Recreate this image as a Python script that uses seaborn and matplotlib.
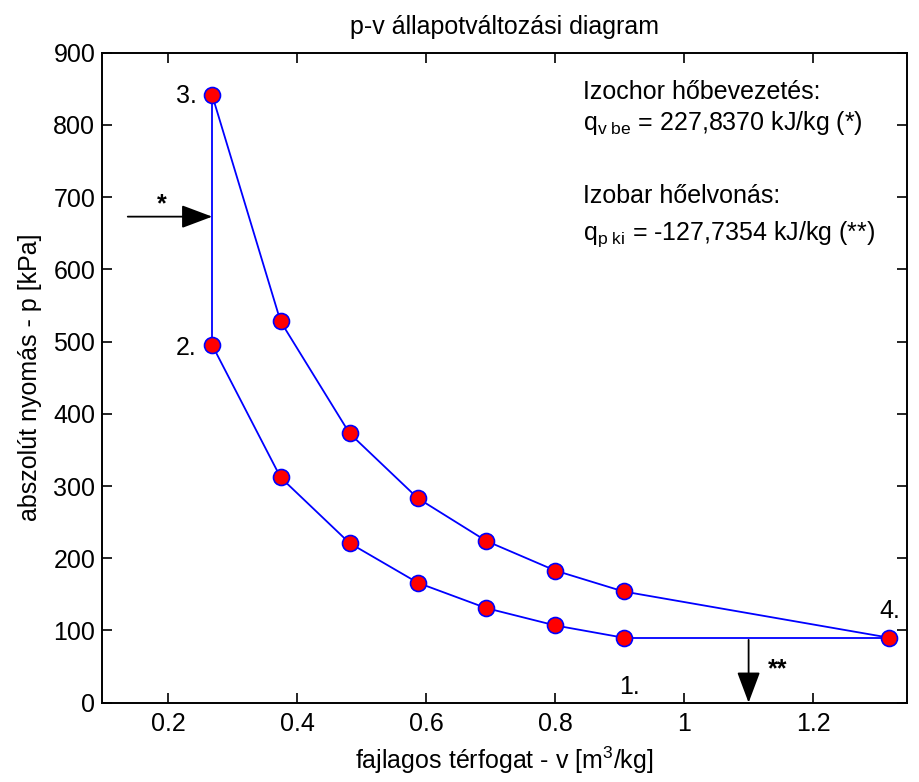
import matplotlib
matplotlib.use("Agg")
import matplotlib.pyplot as plt
import seaborn as sns
import pandas as pd

# ---- data ----
v_points = [0.268, 0.374, 0.481, 0.587, 0.693, 0.800, 0.906]
p_lower = [495, 312, 221, 166, 131, 107, 90]      # isentropic compression 1-2 (listed 2 -> 1)
p_upper = [841, 528, 373, 283, 224, 183, 154]     # isentropic expansion 3-4 (without point 4)
v_state4 = 1.318
p_state4 = 90
state_labels = ["1.", "2.", "3.", "4."]
arrow_v_star = 1.1
arrow_p_star = 673

title = "p-v állapotváltozási diagram"
xlabel = "fajlagos térfogat - v [m$^3$/kg]"
ylabel = "abszolút nyomás - p [kPa]"
xticks = [0.2, 0.4, 0.6, 0.8, 1.0, 1.2]
xticklabels = ["0.2", "0.4", "0.6", "0.8", "1", "1.2"]
yticks = [0, 100, 200, 300, 400, 500, 600, 700, 800, 900]

sns.set_style("ticks")
plt.rcParams["font.family"] = ["Liberation Sans", "DejaVu Sans"]
plt.rcParams["mathtext.fontset"] = "custom"
plt.rcParams["mathtext.rm"] = "Liberation Sans"
plt.rcParams["mathtext.it"] = "Liberation Sans"
plt.rcParams["mathtext.default"] = "regular"
for k in ["text.color", "axes.labelcolor", "xtick.color", "ytick.color", "axes.edgecolor"]:
    plt.rcParams[k] = "black"

FS = 18
fig = plt.figure(figsize=(9.19, 7.82), dpi=100)
ax = fig.add_axes([102.3 / 919, 1 - 702.7 / 782, (907 - 102.3) / 919, (702.7 - 52.7) / 782])

blue = "#0000ff"
lw = 1.3
common = dict(sort=False, estimator=None, color=blue, lw=lw, ax=ax)

# vertical (2-3) and horizontal (1-4) segments
df_v = pd.DataFrame({"v": [v_points[0], v_points[0]], "p": [p_lower[0], p_upper[0]]})
sns.lineplot(data=df_v, x="v", y="p", zorder=2, **common)
df_h = pd.DataFrame({"v": [v_points[-1], v_state4], "p": [p_lower[-1], p_state4]})
sns.lineplot(data=df_h, x="v", y="p", zorder=2, **common)

mk = dict(marker="o", markersize=11.5, markerfacecolor="red", markeredgecolor=blue, markeredgewidth=1.2)
df_low = pd.DataFrame({"v": v_points, "p": p_lower})
sns.lineplot(data=df_low, x="v", y="p", zorder=3, **common, **mk)
df_up = pd.DataFrame({"v": v_points + [v_state4], "p": p_upper + [p_state4]})
sns.lineplot(data=df_up, x="v", y="p", zorder=3, **common, **mk)

ax.set_xlim(0.0975, 1.3457)
ax.set_ylim(0, 900)
ax.set_xticks(xticks)
ax.set_xticklabels(xticklabels)
ax.set_yticks(yticks)
ax.tick_params(direction="in", length=7.5, width=1.2, labelsize=FS, top=True, right=True,
               colors="black", pad=7)
ax.tick_params(axis="y", pad=5)
for s in ax.spines.values():
    s.set_linewidth(1.4)
    s.set_color("black")
ax.grid(False)

ax.set_title(title, fontsize=FS, pad=13.5)
ax.set_xlabel(xlabel, fontsize=FS, labelpad=6)
ax.set_ylabel(ylabel, fontsize=FS, labelpad=8)

# state labels
ax.text(0.244, 830, state_labels[2], fontsize=FS, ha="right", va="baseline")
ax.text(0.244, 481, state_labels[1], fontsize=FS, ha="right", va="baseline")
ax.text(1.319, 117, state_labels[3], fontsize=FS, ha="center", va="baseline")
ax.text(0.916, 12, state_labels[0], fontsize=FS, ha="center", va="baseline")

# heat text block
ax.text(0.8427, 835.5, "Izochor hőbevezetés:", fontsize=FS, ha="left", va="baseline")
ax.text(0.8427, 792.6, "q$_{v\\ be}$ = 227,8370 kJ/kg (*)", fontsize=FS, ha="left", va="baseline")
ax.text(0.8427, 692, "Izobar hőelvonás:", fontsize=FS, ha="left", va="baseline")
ax.text(0.8427, 640.6, "q$_{p\\ ki}$ = -127,7354 kJ/kg (**)", fontsize=FS, ha="left", va="baseline")

# arrows
arrow_kw = dict(arrowstyle="-|>,head_length=1.2,head_width=0.45", color="black", lw=1.3,
                shrinkA=0, shrinkB=0, mutation_scale=16)
ax.annotate("", xy=(v_points[0], arrow_p_star), xytext=(0.137, arrow_p_star), arrowprops=arrow_kw)
ax.annotate("", xy=(arrow_v_star, 0), xytext=(arrow_v_star, 87), arrowprops=arrow_kw)
ax.text(0.1897, 681, "*", fontsize=FS, fontweight="bold", ha="center", va="baseline")
ax.text(1.1456, 36, "**", fontsize=FS, fontweight="bold", ha="center", va="baseline")

fig.savefig("out.png", dpi=100)
